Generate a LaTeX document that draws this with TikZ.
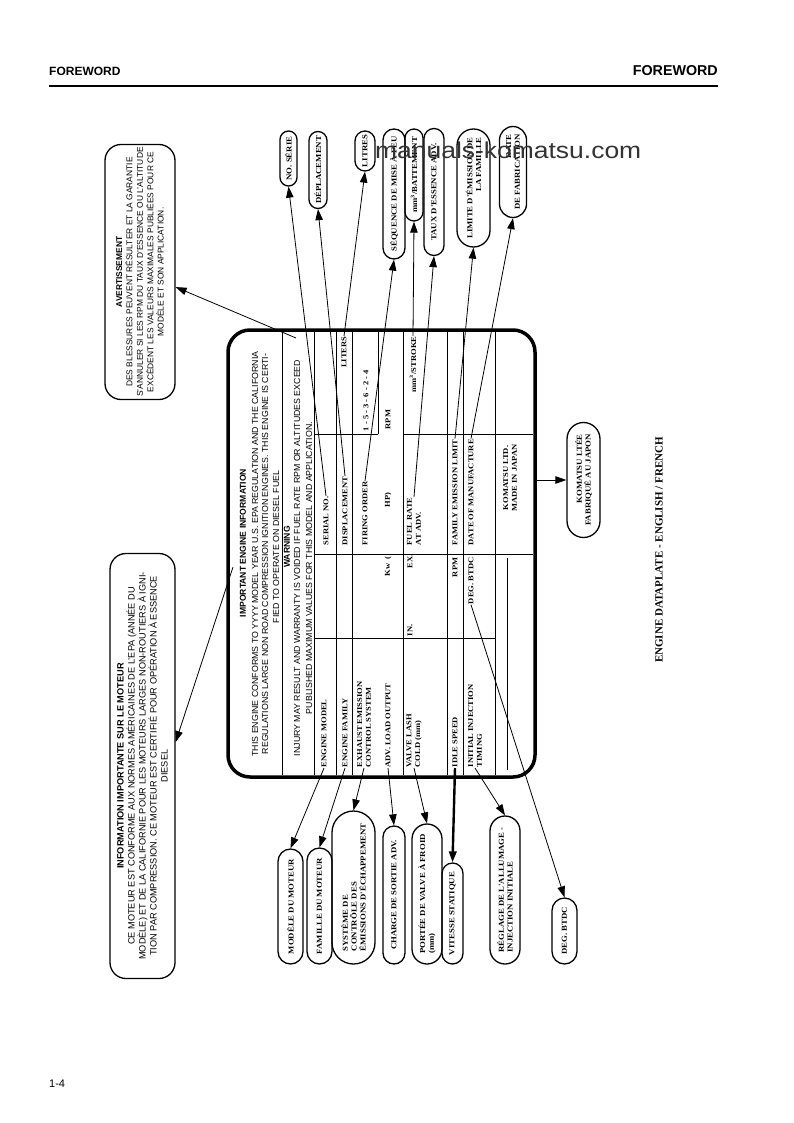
\documentclass[tikz,border=0pt]{standalone}
\usepackage{fontspec}
\setmainfont{Liberation Serif}
\setsansfont{Liberation Sans}
\newfontfamily\wserif[FakeStretch=1.15]{Liberation Serif}
\newfontfamily\wsans[FakeStretch=1.15]{Liberation Sans}
\usetikzlibrary{arrows.meta,shapes.misc,calc}
\begin{document}
\begin{tikzpicture}[x=1pt,y=-1pt,
  hd/.style={rotate=90, font=\sffamily\fontsize{8.8}{10}\selectfont, inner sep=0.5pt},
  hdb/.style={rotate=90, font=\sffamily\bfseries\fontsize{8.6}{10}\selectfont, inner sep=0.5pt},
  cell/.style={rotate=90, font=\wserif\bfseries\fontsize{7.4}{8.8}\selectfont, inner sep=0.5pt, align=left},
  bub/.style={draw, line width=1.3pt, rounded rectangle, rotate=90, font=\wserif\bfseries\fontsize{7.6}{8.8}\selectfont, inner sep=1pt, align=center},
  lbox/.style={draw, line width=1.3pt, rounded corners=16pt, rotate=90, font=\sffamily\fontsize{8.4}{10.4}\selectfont, align=center, inner sep=2pt},
  ptr/.style={line width=0.8pt, -{Triangle[length=11pt,width=7.5pt]}},
  tl/.style={line width=0.9pt}
]
\fill[white] (0,0) rectangle (793,1123);
\path[use as bounding box] (0,0) rectangle (793,1123);

% header / footer
\node[anchor=base west, inner sep=0, font=\sffamily\bfseries\fontsize{12}{14}\selectfont] (hl) at (49,76) {FOREWORD};
\node[anchor=base east, inner sep=0, font=\sffamily\bfseries\fontsize{14.3}{16}\selectfont] (hr) at (718,76) {FOREWORD};
\draw[line width=1.5pt] (hl.base west |- 0,86) -- (hr.base east |- 0,86);
\node[anchor=base west, inner sep=0, font=\sffamily\fontsize{11}{13}\selectfont] (pg) at (49,1087) {1-4};

% plate
\node[draw, line width=3.5pt, rounded corners=22pt, minimum width=307pt, minimum height=447pt, inner sep=0] (plate) at (381.5,553.5) {};
\foreach \x in {282,314,336,352,403,447,463,495} \draw[tl] (\x,332) -- (\x,775);
\draw[tl] (378,332) -- (378,434);
\draw[tl] (314,434) -- (378,434);
\draw[tl] (403,434) -- (533,434);
\draw[tl] (314,554) -- (533,554);
\draw[tl] (314,638) -- (495,638);
\draw[tl] (507,558) -- (507,770);

\node[hdb] (h1) at (243,543) {IMPORTANT ENGINE INFORMATION};
\node[hd] (h2) at (255,554) {THIS ENGINE CONFORMS TO YYYY MODEL YEAR U.S. EPA REGULATION AND THE CALIFORNIA};
\node[hd] (h3) at (265,554) {REGULATIONS LARGE NON ROAD COMPRESSION IGNITION ENGINES. THIS ENGINE IS CERTI-};
\node[hd] (h4) at (276,547) {FIED TO OPERATE ON DIESEL FUEL};
\node[hdb] (h5) at (287,547) {WARNING};
\node[hd] (h6) at (297,558) {INJURY MAY RESULT AND WARRANTY IS VOIDED IF FUEL RATE RPM OR ALTITUDES EXCEED};
\node[hd] (h7) at (309,568) {PUBLISHED MAXIMUM VALUES FOR THIS MODEL AND APPLICATION.};

\node[cell, anchor=west] (emod) at (324,768) {ENGINE MODEL};
\node[cell, anchor=west] (serial) at (326,546) {SERIAL NO.};
\node[cell, anchor=west] (efam) at (345,768) {ENGINE FAMILY};
\node[cell, anchor=west] (disp) at (345,546) {DISPLACEMENT};
\node[cell, anchor=east] (liters) at (344,336) {LITERS};
\node[cell, anchor=west] (exh) at (364,768) {EXHAUST EMISSION\\CONTROL SYSTEM};
\node[cell, anchor=west] (firing) at (365,546) {FIRING ORDER};
\node[cell, anchor=west] (order) at (366,432) {1 - 5 - 3 - 6 - 2 - 4};
\node[cell, anchor=west] (adv) at (388,768) {ADV. LOAD OUTPUT};
\node[cell, anchor=east] (kw) at (388,556) {Kw\ \ (};
\node[cell, anchor=west] (hp) at (388,508) {HP)};
\node[cell, anchor=west] (rpma) at (388,430) {RPM};
\node[cell, anchor=west] (valve) at (414,768) {VALVE LASH\\COLD (mm)};
\node[cell, anchor=west] (lashin) at (410,637) {IN.};
\node[cell, anchor=west] (lashex) at (410,569) {EX.};
\node[cell, anchor=west] (fuel) at (414,546) {FUEL RATE\\AT ADV.};
\node[cell, anchor=east] (mm) at (413,336) {mm\textsuperscript{3}/STROKE};
\node[cell, anchor=west] (idle) at (455,768) {IDLE SPEED};
\node[cell, anchor=east] (rpmb) at (455,557) {RPM};
\node[cell, anchor=west] (fam) at (455,546) {FAMILY EMISSION LIMIT};
\node[cell, anchor=west] (init) at (475,768) {INITIAL INJECTION\\TIMING};
\node[cell, anchor=east] (deg) at (471,557) {DEG. BTDC};
\node[cell, anchor=west] (date) at (471,546) {DATE OF MANUFACTURE};
\node[cell, align=center] (kltd) at (510,478) {KOMATSU LTD.\\MADE IN JAPAN};

% top bubbles
\node[bub, minimum width=57pt, minimum height=17pt] (b1) at (288.5,158.5) {NO. SÉRIE};
\node[bub, minimum width=79pt, minimum height=18pt] (b2) at (318,170) {DÉPLACEMENT};
\node[bub, minimum width=42pt, minimum height=20pt] (b3) at (365,151) {LITRES};
\node[bub, minimum width=132pt, minimum height=22pt] (b4) at (394,194) {SÉQUENCE DE MISE À FEU};
\node[bub, minimum width=94pt, minimum height=18pt] (b5) at (414,175) {mm\textsuperscript{3}/BATTEMENT};
\node[bub, minimum width=129pt, minimum height=20pt] (b6) at (434,192) {TAUX D'ESSENCE ADV.};
\node[bub, minimum width=120pt, minimum height=33pt, align=right] (b7) at (473.5,188) {LIMITE D'ÉMISSION DE\\LA FAMILLE};
\node[bub, minimum width=93pt, minimum height=27pt, align=right] (b8) at (513,172) {DATE\\DE FABRICATION};

\draw[ptr] (serial.east) -- (b1.west);
\draw[ptr] (disp.east) -- (b2.west);
\draw[ptr] (liters.east) -- (b3.west);
\draw[ptr] (firing.east) -- (b4.west);
\draw[ptr] (mm.east) -- (b5.west);
\draw[ptr] (fuel.east) -- (b6.west);
\draw[ptr] (fam.east) -- (b7.west);
\draw[ptr] (date.east) -- (b8.west);

% bottom bubbles
\node[bub, minimum width=117pt, minimum height=25pt] (c1) at (290.5,906.5) {MODÈLE DU MOTEUR};
\node[bub, minimum width=118pt, minimum height=25pt] (c2) at (319.5,906) {FAMILLE DU MOTEUR};
\node[bub, minimum width=155pt, minimum height=43pt, align=left] (c3) at (353.5,887.5) {SYSTÈME DE\\CONTRÔLE DES\\ÉMISSIONS D'ÉCHAPPEMENT};
\node[bub, minimum width=140pt, minimum height=22pt] (c4) at (394,895) {CHARGE DE SORTIE ADV.};
\node[bub, minimum width=142pt, minimum height=30pt, align=left] (c5) at (427,894) {PORTÉE DE VALVE À FROID\\(mm)};
\node[bub, minimum width=103pt, minimum height=21pt] (c6) at (452.5,913.5) {VITESSE STATIQUE};
\node[bub, minimum width=150pt, minimum height=30pt, align=left] (c7) at (505,890) {RÉGLAGE DE L'ALLUMAGE -\\INJECTION INITIALE};
\node[bub, minimum width=68pt, minimum height=25pt] (c8) at (564.5,931) {DEG. BTDC};

\draw[ptr] (emod.west) -- (c1.east);
\draw[ptr] (efam.west) -- (c2.east);
\draw[ptr] (exh.west) -- (c3.east);
\draw[ptr] (adv.west) -- (c4.east);
\draw[ptr] (valve.west) -- (c5.east);
\draw[ptr, line width=2.4pt] (idle.west) -- (c6.east);
\draw[ptr] (init.west) -- (c7.east);
\draw[ptr] (deg.west) -- (c8.east);

% left boxes
\node[lbox, minimum width=255pt, minimum height=70pt] (avert) at (140,272) {{\bfseries AVERTISSEMENT}\\DES BLESSURES PEUVENT RÉSULTER ET LA GARANTIE\\S'ANNULER SI LES RPM DU TAUX D'ESSENCE OU L'ALTITUDE\\EXCÈDENT LES VALEURS MAXIMALES PUBLIÉES POUR CE\\MODÈLE ET SON APPLICATION.};
\node[lbox, minimum width=425pt, minimum height=65pt, font=\sffamily\fontsize{9.2}{11}\selectfont] (info) at (142.5,766) {{\bfseries INFORMATION IMPORTANTE SUR LE MOTEUR}\\CE MOTEUR EST CONFORME AUX NORMES AMÉRICAINES DE L'EPA (ANNÉE DU\\MODÈLE) ET DE LA CALIFORNIE POUR LES MOTEURS LARGES NON-ROUTIERS À IGNI-\\TION PAR COMPRESSION. CE MOTEUR EST CERTIFIÉ POUR OPÉRATION À ESSENCE\\DIESEL};
\coordinate (w1) at (296,338);
\coordinate (w2) at (233,567);
\draw[ptr] (w1) -- (avert);
\draw[ptr] (w2) -- ($(info.south)+(0,-24)$);

% komatsu box
\node[bub, minimum width=117pt, minimum height=33pt, align=right] (kbox) at (583.5,480) {KOMATSU LTÉE\\FABRIQUÉ AU JAPON};
\draw[ptr] (kbox.center -| plate.east) -- (kbox.north);

% caption
\node[rotate=90, font=\rmfamily\bfseries\fontsize{11}{13}\selectfont] (cap) at (659,550) {ENGINE DATAPLATE - ENGLISH / FRENCH};

% watermark
\node[anchor=base west, inner sep=0, font=\wsans\fontsize{23}{28}\selectfont, text=black!80] (wm) at (375,159) {manuals-komatsu.com};
\end{tikzpicture}
\end{document}
